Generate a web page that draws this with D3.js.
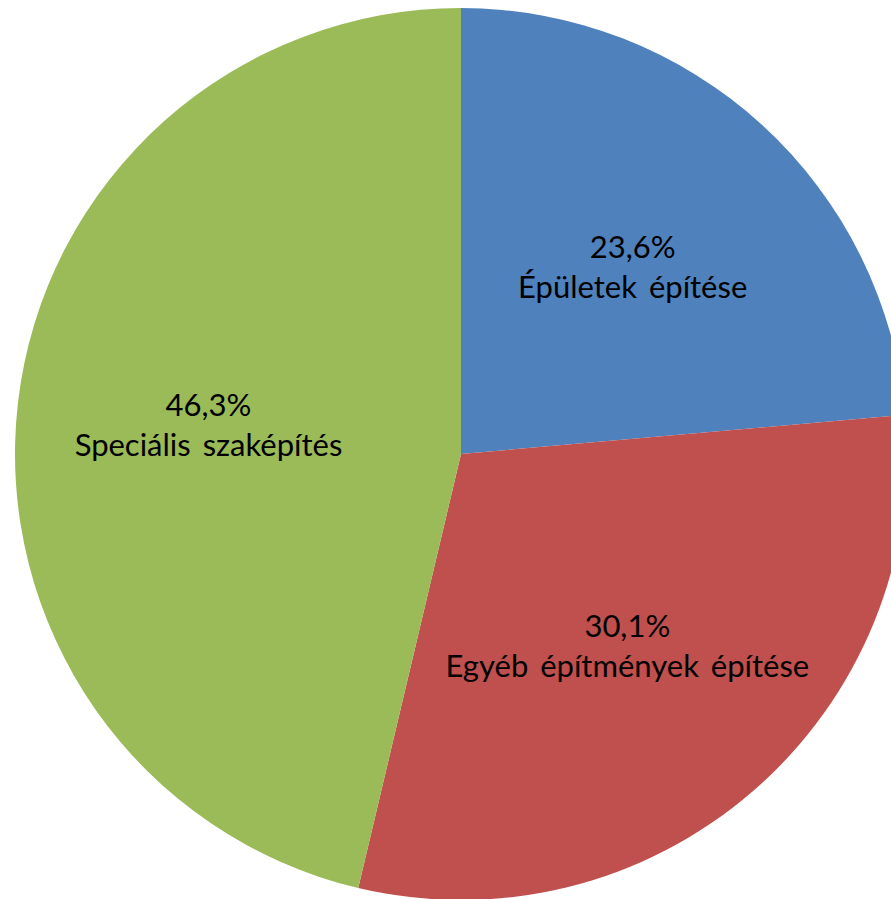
<!DOCTYPE html>
<html>
<head>
<meta charset="utf-8">
<script src="https://cdn.jsdelivr.net/npm/d3@7"></script>
<style>
  body { margin: 0; background: #fff; }
  text { font-family: Lato, "Open Sans", sans-serif; fill: #000; }
</style>
</head>
<body>
<div id="chart"></div>
<script>
const categories = ["Épületek építése", "Egyéb építmények építése", "Speciális szaképítés"];
const values = [23.6, 30.1, 46.3];
const colors = ["#4F81BD", "#C0504D", "#9BBB59"];

const width = 891, height = 899;
const cx = 461, cy = 454, radius = 446;

const svg = d3.select("#chart").append("svg")
    .attr("width", width)
    .attr("height", height);

const g = svg.append("g").attr("transform", `translate(${cx},${cy})`);

const data = categories.map((c, i) => ({ name: c, value: values[i], color: colors[i] }));

const pie = d3.pie().value(d => d.value).sort(null);
const arc = d3.arc().innerRadius(0).outerRadius(radius);
const labelArc = d3.arc().innerRadius(radius * 0.57).outerRadius(radius * 0.57);

const arcs = pie(data);

g.selectAll("path.slice")
    .data(arcs)
    .join("path")
    .attr("class", "slice")
    .attr("d", arc)
    .attr("fill", d => d.data.color);

const fmt = v => v.toFixed(1).replace(".", ",") + "%";

const labels = g.selectAll("text.label")
    .data(arcs)
    .join("text")
    .attr("class", "label")
    .attr("text-anchor", "middle")
    .attr("font-size", 31)
    .attr("word-spacing", 4)
    .attr("transform", d => `translate(${labelArc.centroid(d)})`);

labels.append("tspan")
    .attr("x", 0)
    .attr("y", -9)
    .text(d => fmt(d.data.value));

labels.append("tspan")
    .attr("x", 0)
    .attr("y", 31)
    .text(d => d.data.name);
</script>
</body>
</html>
